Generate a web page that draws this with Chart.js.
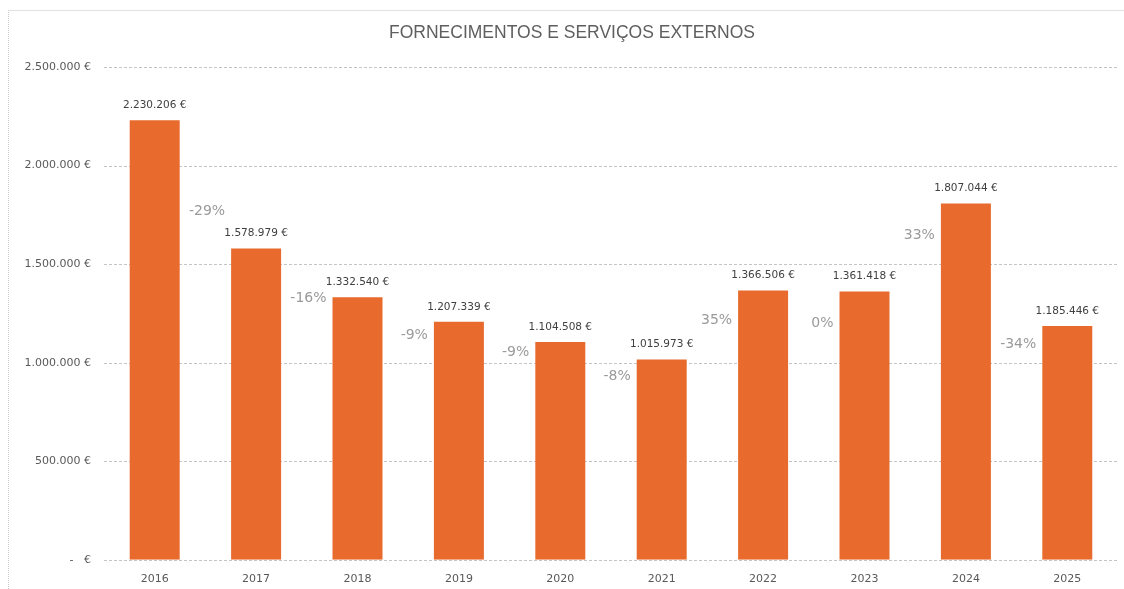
<!DOCTYPE html>
<html>
<head>
<meta charset="utf-8">
<script src="https://cdn.jsdelivr.net/npm/chart.js@4.4.1/dist/chart.umd.min.js"></script>
<style>
    html, body { margin: 0; padding: 0; background: #fff; }
    #wrap { position: relative; width: 1124px; height: 589px; overflow: hidden; }
    #frame { position: absolute; left: 8px; top: 10px; width: 1200px; height: 700px;
             border-top: 1px solid #e2e2e2; border-left: 1px dotted #c8c8c8; }
    #chart { position: absolute; left: 0; top: 0; }
</style>
</head>
<body>
<div id="wrap">
    <div id="frame"></div>
    <canvas id="chart" width="1124" height="589"></canvas>
</div>
<script>
// ===================== DADOS =====================
const chartTitle = 'FORNECIMENTOS E SERVIÇOS EXTERNOS';
const anos = ['2016', '2017', '2018', '2019', '2020', '2021', '2022', '2023', '2024', '2025'];
const valores = [2230206, 1578979, 1332540, 1207339, 1104508, 1015973, 1366506, 1361418, 1807044, 1185446];
// altura (em €) onde fica o rótulo da variação anual, à esquerda de cada barra
const posVariacao = [null, 1768000, 1326000, 1140000, 1050000, 930000, 1214000, 1199000, 1648000, 1095000];
const yTicks = [0, 500000, 1000000, 1500000, 2000000, 2500000];

// variação face ao ano anterior
const variacoes = valores.map((v, i) => i === 0 ? null : Math.round((v - valores[i - 1]) / valores[i - 1] * 100));

// formato 1.234.567 €
function formatEuro(v) {
    if (v === 0) return '-   €';
    return String(Math.round(v)).replace(/\B(?=(\d{3})+(?!\d))/g, '.') + ' €';
}

// Plugin: título, linhas de grelha tracejadas e rótulos
const rotulosPlugin = {
    id: 'rotulos',
    beforeDatasetsDraw(chart) {
        const ctx = chart.ctx;
        const area = chart.chartArea;
        const y = chart.scales.y;
        ctx.save();
        ctx.strokeStyle = '#c4c4c4';
        ctx.lineWidth = 1;
        ctx.setLineDash([3, 2]);
        yTicks.forEach(t => {
            const py = Math.round(y.getPixelForValue(t)) + 0.5;
            ctx.beginPath();
            ctx.moveTo(area.left, py);
            ctx.lineTo(area.right, py);
            ctx.stroke();
        });
        ctx.restore();
    },
    afterDatasetsDraw(chart) {
        const ctx = chart.ctx;
        const y = chart.scales.y;
        const bars = chart.getDatasetMeta(0).data;
        ctx.save();
        // título
        ctx.font = '17.5px "Liberation Sans", Arial, sans-serif';
        ctx.fillStyle = '#5f5f5f';
        ctx.textAlign = 'center';
        ctx.textBaseline = 'middle';
        ctx.fillText(chartTitle, chart.width / 2 + 10, 33);
        // valores por cima das barras
        ctx.font = '10.5px "DejaVu Sans", sans-serif';
        ctx.fillStyle = '#404040';
        bars.forEach((bar, i) => {
            ctx.fillText(formatEuro(valores[i]), bar.x, bar.y - 15);
        });
        // variação anual
        ctx.font = '14px "DejaVu Sans", sans-serif';
        ctx.fillStyle = '#9a9a9a';
        ctx.textAlign = 'right';
        bars.forEach((bar, i) => {
            if (variacoes[i] === null) return;
            ctx.fillText(variacoes[i] + '%', bar.x - bar.width / 2 - 6, y.getPixelForValue(posVariacao[i]));
        });
        ctx.restore();
    }
};

new Chart(document.getElementById('chart'), {
    type: 'bar',
    data: {
        labels: anos,
        datasets: [{
            label: 'Fornecimentos e serviços externos',
            data: valores,
            backgroundColor: '#e86a2d',
            borderWidth: 0,
            barPercentage: 0.493,
            categoryPercentage: 1
        }]
    },
    options: {
        responsive: false,
        animation: false,
        layout: { padding: { left: 8, right: 6, top: 67, bottom: -10 } },
        plugins: {
            legend: { display: false },
            tooltip: { enabled: false },
            title: { display: false }
        },
        scales: {
            x: {
                grid: { display: false, drawTicks: false },
                border: { display: false },
                ticks: { color: '#595959', font: { family: 'DejaVu Sans', size: 11 }, padding: 13 }
            },
            y: {
                min: 0,
                max: 2500000,
                afterBuildTicks: scale => { scale.ticks = yTicks.map(v => ({ value: v })); },
                afterFit: scale => { scale.width = 96; },
                grid: { display: false, drawTicks: false },
                border: { display: false },
                ticks: {
                    color: '#595959',
                    font: { family: 'DejaVu Sans', size: 11 },
                    padding: 13,
                    callback: v => formatEuro(v)
                }
            }
        }
    },
    plugins: [rotulosPlugin]
});
</script>
</body>
</html>
